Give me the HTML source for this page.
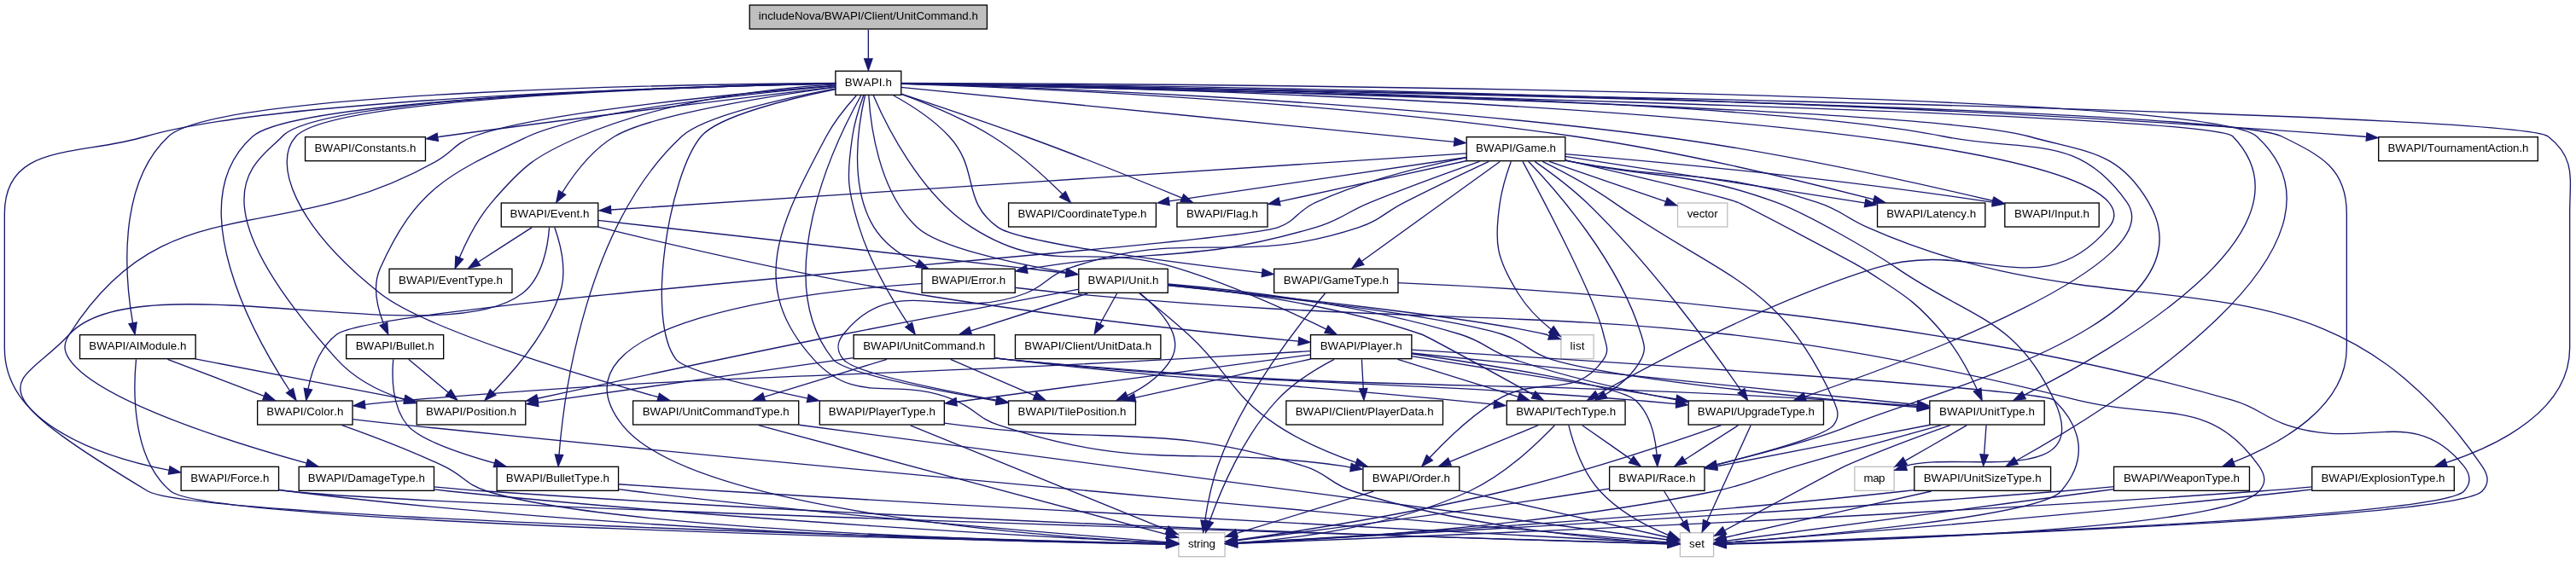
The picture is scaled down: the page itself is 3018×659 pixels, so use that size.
<!DOCTYPE html>
<html><head><meta charset="utf-8"><title>includeNova/BWAPI/Client/UnitCommand.h</title>
<style>
html,body{margin:0;padding:0;background:#fff}
svg{display:block;will-change:transform}
text{font-family:"Liberation Sans",sans-serif;font-size:13.3333px;font-kerning:none;fill:#000}
.e path{fill:none;stroke:#191970;stroke-width:1}
.e polygon{fill:#191970;stroke:#191970;stroke-width:1}
.n rect{stroke-width:1.3333}
</style></head><body>
<svg width="3018" height="659" viewBox="0 0 3018 659">
<rect x="0" y="0" width="3018" height="659" fill="#fff"/>
<g class="n">
<rect x="878.23" y="6.00" width="278.20" height="28.00" fill="#bfbfbf" stroke="#000"/><text x="888.83" y="23.30" textLength="257" lengthAdjust="spacing">includeNova/BWAPI/Client/UnitCommand.h</text>
<rect x="978.88" y="83.33" width="76.90" height="28.00" fill="#fff" stroke="#000"/><text x="989.83" y="100.63" textLength="55" lengthAdjust="spacing">BWAPI.h</text>
<rect x="93.53" y="392.67" width="135.60" height="28.00" fill="#fff" stroke="#000"/><text x="104.33" y="409.97" textLength="114" lengthAdjust="spacing">BWAPI/AIModule.h</text>
<rect x="488.20" y="470.00" width="127.60" height="28.00" fill="#fff" stroke="#000"/><text x="499.00" y="487.30" textLength="106" lengthAdjust="spacing">BWAPI/Position.h</text>
<rect x="301.63" y="470.00" width="111.40" height="28.00" fill="#fff" stroke="#000"/><text x="312.33" y="487.30" textLength="90" lengthAdjust="spacing">BWAPI/Color.h</text>
<rect x="405.67" y="392.67" width="114.00" height="28.00" fill="#fff" stroke="#000"/><text x="416.67" y="409.97" textLength="92" lengthAdjust="spacing">BWAPI/Bullet.h</text>
<rect x="582.13" y="547.33" width="142.40" height="28.00" fill="#fff" stroke="#000"/><text x="592.83" y="564.63" textLength="121" lengthAdjust="spacing">BWAPI/BulletType.h</text>
<rect x="357.55" y="160.67" width="140.90" height="28.00" fill="#fff" stroke="#000"/><text x="368.50" y="177.97" textLength="119" lengthAdjust="spacing">BWAPI/Constants.h</text>
<rect x="1181.60" y="238.00" width="172.80" height="28.00" fill="#fff" stroke="#000"/><text x="1192.50" y="255.30" textLength="151" lengthAdjust="spacing">BWAPI/CoordinateType.h</text>
<rect x="350.18" y="547.33" width="158.30" height="28.00" fill="#fff" stroke="#000"/><text x="360.83" y="564.63" textLength="137" lengthAdjust="spacing">BWAPI/DamageType.h</text>
<rect x="1080.07" y="315.33" width="109.20" height="28.00" fill="#fff" stroke="#000"/><text x="1091.17" y="332.63" textLength="87" lengthAdjust="spacing">BWAPI/Error.h</text>
<rect x="587.25" y="238.00" width="113.50" height="28.00" fill="#fff" stroke="#000"/><text x="597.50" y="255.30" textLength="93" lengthAdjust="spacing">BWAPI/Event.h</text>
<rect x="456.05" y="315.33" width="143.90" height="28.00" fill="#fff" stroke="#000"/><text x="467.00" y="332.63" textLength="122" lengthAdjust="spacing">BWAPI/EventType.h</text>
<rect x="1535.47" y="392.67" width="118.40" height="28.00" fill="#fff" stroke="#000"/><text x="1546.67" y="409.97" textLength="96" lengthAdjust="spacing">BWAPI/Player.h</text>
<rect x="1181.55" y="470.00" width="148.90" height="28.00" fill="#fff" stroke="#000"/><text x="1192.50" y="487.30" textLength="127" lengthAdjust="spacing">BWAPI/TilePosition.h</text>
<rect x="1885.63" y="547.33" width="111.40" height="28.00" fill="#fff" stroke="#000"/><text x="1896.33" y="564.63" textLength="90" lengthAdjust="spacing">BWAPI/Race.h</text>
<rect x="1765.27" y="470.00" width="138.80" height="28.00" fill="#fff" stroke="#000"/><text x="1776.17" y="487.30" textLength="117" lengthAdjust="spacing">BWAPI/TechType.h</text>
<rect x="1596.88" y="547.33" width="112.90" height="28.00" fill="#fff" stroke="#000"/><text x="1607.83" y="564.63" textLength="91" lengthAdjust="spacing">BWAPI/Order.h</text>
<rect x="1978.18" y="470.00" width="158.30" height="28.00" fill="#fff" stroke="#000"/><text x="1988.83" y="487.30" textLength="137" lengthAdjust="spacing">BWAPI/UpgradeType.h</text>
<rect x="960.33" y="470.00" width="146.00" height="28.00" fill="#fff" stroke="#000"/><text x="970.83" y="487.30" textLength="125" lengthAdjust="spacing">BWAPI/PlayerType.h</text>
<rect x="2260.80" y="470.00" width="134.40" height="28.00" fill="#fff" stroke="#000"/><text x="2272.00" y="487.30" textLength="112" lengthAdjust="spacing">BWAPI/UnitType.h</text>
<rect x="2242.77" y="547.33" width="159.80" height="28.00" fill="#fff" stroke="#000"/><text x="2253.67" y="564.63" textLength="138" lengthAdjust="spacing">BWAPI/UnitSizeType.h</text>
<rect x="1263.75" y="315.33" width="104.50" height="28.00" fill="#fff" stroke="#000"/><text x="1274.50" y="332.63" textLength="83" lengthAdjust="spacing">BWAPI/Unit.h</text>
<rect x="1000.12" y="392.67" width="165.10" height="28.00" fill="#fff" stroke="#000"/><text x="1011.17" y="409.97" textLength="143" lengthAdjust="spacing">BWAPI/UnitCommand.h</text>
<rect x="741.62" y="470.00" width="194.10" height="28.00" fill="#fff" stroke="#000"/><text x="752.67" y="487.30" textLength="172" lengthAdjust="spacing">BWAPI/UnitCommandType.h</text>
<rect x="2708.70" y="547.33" width="166.60" height="28.00" fill="#fff" stroke="#000"/><text x="2719.50" y="564.63" textLength="145" lengthAdjust="spacing">BWAPI/ExplosionType.h</text>
<rect x="1378.95" y="238.00" width="106.10" height="28.00" fill="#fff" stroke="#000"/><text x="1390.00" y="255.30" textLength="84" lengthAdjust="spacing">BWAPI/Flag.h</text>
<rect x="212.13" y="547.33" width="114.40" height="28.00" fill="#fff" stroke="#000"/><text x="223.33" y="564.63" textLength="92" lengthAdjust="spacing">BWAPI/Force.h</text>
<rect x="1718.20" y="160.67" width="115.60" height="28.00" fill="#fff" stroke="#000"/><text x="1729.00" y="177.97" textLength="94" lengthAdjust="spacing">BWAPI/Game.h</text>
<rect x="1492.68" y="315.33" width="145.30" height="28.00" fill="#fff" stroke="#000"/><text x="1503.83" y="332.63" textLength="123" lengthAdjust="spacing">BWAPI/GameType.h</text>
<rect x="2199.52" y="238.00" width="126.30" height="28.00" fill="#fff" stroke="#000"/><text x="2210.17" y="255.30" textLength="105" lengthAdjust="spacing">BWAPI/Latency.h</text>
<rect x="2348.80" y="238.00" width="110.40" height="28.00" fill="#fff" stroke="#000"/><text x="2360.00" y="255.30" textLength="88" lengthAdjust="spacing">BWAPI/Input.h</text>
<rect x="2786.70" y="160.67" width="186.60" height="28.00" fill="#fff" stroke="#000"/><text x="2797.50" y="177.97" textLength="165" lengthAdjust="spacing">BWAPI/TournamentAction.h</text>
<rect x="2476.55" y="547.33" width="158.90" height="28.00" fill="#fff" stroke="#000"/><text x="2488.00" y="564.63" textLength="136" lengthAdjust="spacing">BWAPI/WeaponType.h</text>
<rect x="1380.90" y="624.67" width="54.20" height="28.00" fill="#fff" stroke="#bfbfbf"/><text x="1392.00" y="641.97" textLength="32" lengthAdjust="spacing">string</text>
<rect x="1968.40" y="624.67" width="39.20" height="28.00" fill="#fff" stroke="#bfbfbf"/><text x="1979.00" y="641.97" textLength="18" lengthAdjust="spacing">set</text>
<rect x="1506.87" y="470.00" width="183.60" height="28.00" fill="#fff" stroke="#000"/><text x="1517.67" y="487.30" textLength="162" lengthAdjust="spacing">BWAPI/Client/PlayerData.h</text>
<rect x="2172.85" y="547.33" width="46.30" height="28.00" fill="#fff" stroke="#bfbfbf"/><text x="2183.50" y="564.63" textLength="25" lengthAdjust="spacing">map</text>
<rect x="1828.90" y="392.67" width="38.20" height="28.00" fill="#fff" stroke="#bfbfbf"/><text x="1839.50" y="409.97" textLength="17" lengthAdjust="spacing">list</text>
<rect x="1189.47" y="392.67" width="170.40" height="28.00" fill="#fff" stroke="#000"/><text x="1200.17" y="409.97" textLength="149" lengthAdjust="spacing">BWAPI/Client/UnitData.h</text>
<rect x="1965.52" y="238.00" width="58.30" height="28.00" fill="#fff" stroke="#bfbfbf"/><text x="1976.67" y="255.30" textLength="36" lengthAdjust="spacing">vector</text>
</g>
<g class="e" transform="scale(1.333333) translate(4,490)">
<path d="M759,-463.99C759,-456.91 759,-447.17 759,-438.48"/><polygon points="762.50,-438.30 759,-428.30 755.50,-438.30 762.50,-438.30"/>
<path d="M730.50,-416.87C615.19,-416.06 187.34,-410.36 144,-370C98.34,-327.47 106.02,-244.54 112.68,-205.83"/><polygon points="109.24,-205.19 114.52,-196 116.12,-206.47 109.24,-205.19"/>
<path d="M730.50,-416.59C627.24,-414.80 277.03,-406.11 244,-370C223.76,-347.87 159.22,-321.14 292,-174C307.87,-156.41 330.19,-145.31 351.91,-138.35"/><polygon points="350.92,-134.99 361.50,-135.50 352.91,-141.70 350.92,-134.99"/>
<path d="M730.50,-416.48C624.42,-414.28 256.58,-404.23 218,-370C152.72,-312.08 220.11,-192.94 250.64,-146.31"/><polygon points="247.73,-144.37 256.20,-138 253.55,-148.26 247.73,-144.37"/>
<path d="M730.50,-414.57C665.43,-408.71 507.85,-392.56 460,-370C389.96,-336.98 361.65,-324.67 330,-254C323.04,-238.45 327.54,-219.34 333.07,-205.17"/><polygon points="329.86,-203.77 337.06,-196 336.28,-206.57 329.86,-203.77"/>
<path d="M730.50,-412.03C689,-404.28 614.71,-388.28 595,-370C511.03,-292.11 491.62,-144.55 487.24,-89.97"/><polygon points="483.75,-90.22 486.53,-80 490.73,-89.73 483.75,-90.22"/>
<path d="M730.50,-413.63C667.80,-406.18 513.19,-387.56 384,-370C382.54,-369.80 382.07,-369.60 380.58,-369.39"/><polygon points="381.04,-365.92 370.65,-367.99 380.06,-372.85 381.04,-365.92"/>
<path d="M787.50,-407.36C810.18,-399.07 842.28,-385.95 868,-370C891.30,-355.55 914.52,-334.23 929.69,-319.12"/><polygon points="927.20,-316.67 936.71,-312 932.19,-321.58 927.20,-316.67"/>
<path d="M730.50,-414.79C658.42,-408.94 470.43,-391.98 412,-370C395.50,-363.79 394.34,-356.67 379,-348C241.23,-270.12 141.72,-329.67 57,-196C51.77,-187.74 51.51,-182.09 57,-174C81.24,-138.25 196.58,-101.78 265.56,-82.65"/><polygon points="264.64,-79.27 275.21,-80 266.49,-86.02 264.64,-79.27"/>
<path d="M756.09,-406C750.59,-382.63 741.11,-327.14 764,-290C772.78,-275.76 787.56,-265.43 802.24,-258.16"/><polygon points="800.79,-254.97 811.34,-254 803.70,-261.34 800.79,-254.97"/>
<path d="M730.50,-413.34C678.06,-406.22 568.65,-389.50 536,-370C516.02,-358.07 499.89,-336.45 489.96,-320.58"/><polygon points="486.96,-322.38 484.83,-312 492.96,-318.79 486.96,-322.38"/>
<path d="M730.50,-415.85C682.35,-413.02 582.65,-403.28 506,-370C466.37,-352.79 456.13,-344.79 428,-312C415.53,-297.46 405.83,-277.87 399.66,-263.28"/><polygon points="396.41,-264.58 395.92,-254 402.90,-261.97 396.41,-264.58"/>
<path d="M763.45,-406C774.20,-380.93 804.13,-319.46 850,-290C919.02,-245.68 952.59,-278.08 1031,-254C1077.91,-239.59 1129.64,-215.94 1161.48,-200.42"/><polygon points="1159.94,-197.28 1170.45,-196 1163.03,-203.56 1159.94,-197.28"/>
<path d="M752.58,-406C731.74,-368.70 670.56,-245.39 728,-174C737.21,-162.55 813.48,-147.41 871.64,-137.45"/><polygon points="871.06,-134 881.50,-135.78 872.23,-140.90 871.06,-134"/>
<path d="M787.50,-416.46C942.57,-413.41 1681.34,-397.54 1779,-370C1830.31,-355.53 1856.91,-357.92 1884,-312C1947.52,-204.34 1676.65,-140.76 1622,-116C1600.86,-106.42 1546.14,-91.71 1504.21,-81.30"/><polygon points="1503.37,-84.69 1494.50,-78.90 1505.05,-77.90 1503.37,-84.69"/>
<path d="M787.50,-416.58C952.36,-413.87 1778.95,-396.13 1849,-312C1855.26,-304.49 1855.29,-297.49 1849,-290C1789.20,-218.85 1731.68,-281.83 1643,-254C1549.81,-224.76 1447.37,-169.99 1399.50,-142.95"/><polygon points="1397.77,-145.99 1390.81,-138 1401.23,-139.90 1397.77,-145.99"/>
<path d="M748.47,-406C740.29,-396.95 729.16,-383.46 722,-370C681,-292.98 652.31,-238.56 711,-174C749.60,-131.54 782.10,-160.25 835,-138C853.34,-130.29 855.08,-122.18 874,-116C1002.90,-73.86 1042.77,-99.34 1177,-80C1179.21,-79.68 1180.47,-79.34 1182.75,-79"/><polygon points="1183.49,-82.42 1192.82,-77.41 1182.40,-75.51 1183.49,-82.42"/>
<path d="M787.50,-416.71C925.16,-415.15 1522.06,-406.36 1704,-370C1778.58,-355.10 1821.27,-374.23 1865,-312C1902.72,-258.32 1678.78,-174.43 1581.97,-141.22"/><polygon points="1580.84,-144.54 1572.50,-138 1583.10,-137.91 1580.84,-144.54"/>
<path d="M730.50,-411.64C692.24,-403.83 627.28,-388.27 612,-370C583.88,-336.38 563.09,-208.60 590,-174C597.43,-164.44 656.72,-150.05 705.71,-139.71"/><polygon points="705,-136.29 715.50,-137.67 706.43,-143.14 705,-136.29"/>
<path d="M787.50,-416.42C967.25,-412.73 1937.03,-391.80 1958,-370C2038.06,-286.81 1852.32,-181.44 1774.40,-142.43"/><polygon points="1772.84,-145.57 1765.43,-138 1775.95,-139.29 1772.84,-145.57"/>
<path d="M787.50,-416.94C966.88,-416.42 1933.73,-411.69 1979,-370C2082.85,-274.38 1852.05,-132.03 1767.48,-84.84"/><polygon points="1765.79,-87.90 1758.73,-80 1769.18,-81.77 1765.79,-87.90"/>
<path d="M759.36,-406C760.78,-381.39 767.77,-321.60 802,-290C821.13,-272.34 886.35,-258.36 933.14,-250.38"/><polygon points="932.56,-246.93 943,-248.74 933.71,-253.83 932.56,-246.93"/>
<path d="M754.75,-406C751.36,-396.60 746.88,-382.64 745,-370C739.75,-334.73 740.39,-324.04 751,-290C760.97,-258.02 781.05,-224.60 794.51,-204.28"/><polygon points="791.62,-202.32 800.12,-196 797.41,-206.24 791.62,-202.32"/>
<path d="M730.50,-416.52C628.81,-414.52 288.15,-405.23 256,-370C235.46,-347.49 253.48,-292.74 330,-232C368.66,-201.31 500.87,-161.34 574.48,-140.69"/><polygon points="573.54,-137.31 584.12,-138 575.42,-144.06 573.54,-137.31"/>
<path d="M787.50,-416.56C990.12,-413.35 2205.41,-393.19 2235,-370C2259.70,-350.64 2254,-333.38 2254,-302C2254,-302 2254,-302 2254,-184C2254,-129.66 2192.90,-98.82 2145.29,-83.02"/><polygon points="2144.23,-86.36 2135.76,-80 2146.35,-79.69 2144.23,-86.36"/>
<path d="M787.50,-407.66C815.48,-398.40 859.33,-383.67 897,-370C945.13,-352.53 999.89,-330.28 1034.67,-315.84"/><polygon points="1033.33,-312.61 1043.91,-312 1036.02,-319.07 1033.33,-312.61"/>
<path d="M730.50,-416.49C622.70,-414.31 240.16,-404.28 124,-370C63.72,-352.21 0,-364.85 0,-302C0,-302 0,-302 0,-184C0,-116.54 86.01,-87.98 144.67,-76.40"/><polygon points="144.03,-72.96 154.50,-74.56 145.31,-79.84 144.03,-72.96"/>
<path d="M787.61,-413.18C877.73,-404.31 1155.78,-376.85 1273.62,-365.25"/><polygon points="1274.23,-368.71 1283.83,-364.25 1273.54,-361.74 1274.23,-368.71"/>
<path d="M781.20,-406C796.33,-397.68 816.07,-385.12 830,-370C857.35,-340.32 840.04,-313.31 873,-290C891.71,-276.76 1023.51,-259.57 1105.07,-250.08"/><polygon points="1104.66,-246.60 1115,-248.93 1105.47,-253.55 1104.66,-246.60"/>
<path d="M787.50,-416.23C875.88,-413.54 1153.01,-402.89 1380,-370C1473.65,-356.43 1581,-330.44 1642.52,-314.52"/><polygon points="1641.64,-311.13 1652.20,-312 1643.40,-317.91 1641.64,-311.13"/>
<path d="M787.50,-416.35C882.47,-413.91 1196.73,-403.66 1454,-370C1559.55,-356.18 1680.31,-329.19 1747.27,-313.37"/><polygon points="1746.46,-309.97 1757,-311.06 1748.08,-316.78 1746.46,-309.97"/>
<path d="M787.50,-416.84C927.67,-415.90 1557.89,-409.54 2072,-370C2073.32,-369.90 2073.65,-369.79 2074.98,-369.68"/><polygon points="2075.73,-373.13 2085.37,-368.74 2075.10,-366.16 2075.73,-373.13"/>
<path d="M787.50,-416.57C967.84,-413.80 1944.70,-397.54 2001,-370C2036.42,-352.67 2058,-341.44 2058,-302C2058,-302 2058,-302 2058,-184C2058,-132.43 2001,-100.32 1958.48,-83.54"/><polygon points="1957.24,-86.81 1949.13,-80 1959.72,-80.27 1957.24,-86.81"/>
<path d="M115.62,-174C113.16,-148.88 111.15,-87.21 146,-58C180.31,-29.23 867.88,-14.48 1021,-11.55"/><polygon points="1020.94,-8.05 1031,-11.36 1021.07,-15.05 1020.94,-8.05"/>
<path d="M167.70,-174.31C219.10,-164.49 297.50,-149.31 351.28,-139.03"/><polygon points="352.18,-142.42 361.34,-137.11 350.86,-135.55 352.18,-142.42"/>
<path d="M143.28,-173.99C166.86,-165.01 201.68,-151.74 227.88,-141.76"/><polygon points="229.35,-144.94 237.45,-138.11 226.86,-138.40 229.35,-144.94"/>
<path d="M296.44,-116C321.35,-107.20 356.37,-94.04 386,-80C403.63,-71.64 405.35,-63.75 424,-58C537.85,-22.92 911.93,-13.50 1021,-11.48"/><polygon points="1020.94,-7.98 1031,-11.30 1021.06,-14.98 1020.94,-7.98"/>
<path d="M305.66,-121.22C320.86,-119.51 338.20,-117.62 354,-116C798.51,-70.52 1340.92,-23.45 1461.54,-13.09"/><polygon points="1461.24,-9.61 1471.50,-12.24 1461.84,-16.58 1461.24,-9.61"/>
<path d="M354.98,-173.99C364.67,-165.89 378.53,-154.30 389.92,-144.79"/><polygon points="392.24,-147.40 397.67,-138.30 387.75,-142.03 392.24,-147.40"/>
<path d="M341.55,-174C340.23,-159.09 340.22,-132.43 354,-116C364.34,-103.66 399.31,-91.51 430.66,-82.66"/><polygon points="429.73,-79.28 440.30,-80 431.58,-86.03 429.73,-79.28"/>
<path d="M539.36,-59.76C543.97,-59.13 548.56,-58.54 553,-58C730.47,-36.60 943.40,-19.28 1021.03,-13.27"/><polygon points="1020.76,-9.78 1031,-12.51 1021.30,-16.76 1020.76,-9.78"/>
<path d="M539.06,-64.21C567,-62.26 601.85,-59.90 633,-58C961.30,-37.99 1359.76,-17.42 1461.51,-12.24"/><polygon points="1461.34,-8.75 1471.50,-11.73 1461.69,-15.74 1461.34,-8.75"/>
<path d="M377.32,-59.54C381.95,-58.98 386.55,-58.46 391,-58C633.94,-32.93 927.50,-17.12 1021.01,-12.45"/><polygon points="1020.84,-8.96 1031,-11.96 1021.19,-15.95 1020.84,-8.96"/>
<path d="M377.11,-61.89C392.37,-60.46 408.79,-59.05 424,-58C838.90,-29.47 1345.29,-14.77 1461.50,-11.64"/><polygon points="1461.41,-8.14 1471.50,-11.37 1461.60,-15.14 1461.41,-8.14"/>
<path d="M806.50,-240.78C708.16,-233.90 470.06,-207.56 543,-116C603.51,-40.05 921.11,-17.59 1021.01,-12.36"/><polygon points="1020.84,-8.87 1031,-11.86 1021.19,-15.86 1020.84,-8.87"/>
<path d="M887.71,-237.06C902.58,-235.34 919.54,-233.47 935,-232C1329.65,-194.48 1437.31,-233.77 1822,-138C1894.99,-119.83 1937.88,-141.63 1981,-80C1986.61,-71.99 1987.59,-65.23 1981,-58C1949.06,-22.96 1607.79,-13.43 1512.50,-11.45"/><polygon points="1512.43,-14.94 1502.50,-11.25 1512.57,-7.95 1512.43,-14.94"/>
<path d="M478.67,-290C477.55,-274.34 473,-245.99 455,-232C384.89,-177.49 116.90,-261.56 57,-196C14.41,-149.38 -38.30,-156.91 126,-58C165.25,-34.36 866.30,-15.59 1021,-11.73"/><polygon points="1020.92,-8.23 1031,-11.48 1021.09,-15.23 1020.92,-8.23"/>
<path d="M483.38,-290C488.24,-276.14 494.58,-251.74 488,-232C476.38,-197.14 448.29,-164.40 429.19,-145.03"/><polygon points="426.73,-147.52 422.07,-138 431.65,-142.54 426.73,-147.52"/>
<path d="M463.45,-289.99C450.41,-281.60 431.58,-269.47 416.52,-259.78"/><polygon points="418.02,-256.58 407.71,-254.11 414.23,-262.47 418.02,-256.58"/>
<path d="M521.50,-290.39C582.40,-275.51 698.15,-248.43 798,-232C918.88,-212.11 1060.95,-197.17 1137.04,-189.91"/><polygon points="1136.71,-186.42 1147,-188.96 1137.37,-193.39 1136.71,-186.42"/>
<path d="M521.50,-296.24C597.06,-287.78 759.75,-269.54 897,-254C908.78,-252.67 920.47,-251.21 932.39,-249.82"/><polygon points="933.09,-253.26 942.62,-248.63 932.28,-246.31 933.09,-253.26"/>
<path d="M1168.33,-174C1152.59,-165.79 1132.26,-153.35 1118,-138C1088.37,-106.11 1068.39,-58.40 1058.72,-31.45"/><polygon points="1055.42,-32.59 1055.45,-22 1062.03,-30.31 1055.42,-32.59"/>
<path d="M1147.70,-181.27C1114.05,-179.22 1066.61,-176.36 1025,-174C726.83,-157.07 651.64,-162.50 354,-138C341.64,-136.98 329.34,-135.64 316.87,-134.27"/><polygon points="316.95,-130.76 306.62,-133.13 316.17,-137.72 316.95,-130.76"/>
<path d="M1236,-182.36C1374.17,-173.96 1790.86,-147.86 1801,-138C1826.56,-113.14 1830.35,-84.95 1807,-58C1787.61,-35.62 1583.95,-18.21 1512.47,-12.78"/><polygon points="1512.21,-16.27 1502.50,-12.03 1512.73,-9.29 1512.21,-16.27"/>
<path d="M1147.76,-174.25C1104.85,-164.79 1039.63,-150.41 993.32,-140.20"/><polygon points="993.97,-136.75 983.45,-138.02 992.46,-143.59 993.97,-136.75"/>
<path d="M1236,-178.95C1301.53,-169.56 1418.63,-151.20 1433,-138C1446.20,-125.86 1450.56,-105.46 1451.84,-89.99"/><polygon points="1448.35,-89.82 1452.32,-80 1455.34,-90.16 1448.35,-89.82"/>
<path d="M1224.18,-173.99C1253.78,-164.78 1297.85,-151.07 1330.17,-141.01"/><polygon points="1331.29,-144.33 1339.80,-138.02 1329.21,-137.65 1331.29,-144.33"/>
<path d="M1236.30,-176.85C1295.34,-167.32 1399.41,-150.37 1468.91,-139.15"/><polygon points="1469.58,-142.59 1478.89,-137.54 1468.46,-135.68 1469.58,-142.59"/>
<path d="M1147.74,-178.11C1073.11,-168.19 922.94,-148.08 836.50,-136.58"/><polygon points="836.92,-133.10 826.55,-135.26 836,-140.04 836.92,-133.10"/>
<path d="M1236.08,-179.51C1334.09,-169.53 1569.21,-145.49 1680.74,-134.14"/><polygon points="1681.21,-137.61 1690.81,-133.11 1680.51,-130.64 1681.21,-137.61"/>
<path d="M1192.54,-173.99C1192.92,-166.91 1193.44,-157.17 1193.90,-148.48"/><polygon points="1197.41,-148.48 1194.45,-138.30 1190.42,-148.10 1197.41,-148.48"/>
<path d="M1410.44,-60.37C1405.58,-59.54 1400.68,-58.73 1396,-58C1280.13,-39.91 1142.71,-22.17 1082.92,-14.70"/><polygon points="1082.49,-18.17 1073,-13.46 1083.36,-11.23 1082.49,-18.17"/>
<path d="M1458.26,-57.99C1462.93,-50.52 1469.45,-40.08 1475.10,-31.04"/><polygon points="1478.23,-32.64 1480.56,-22.30 1472.29,-28.93 1478.23,-32.64"/>
<path d="M1362.02,-116C1347.24,-100.45 1317.93,-72.33 1287,-58C1218.11,-26.07 1129.04,-15.78 1082.98,-12.50"/><polygon points="1082.75,-16 1073,-11.86 1083.21,-9.01 1082.75,-16"/>
<path d="M1374.38,-116C1378.06,-101.24 1386.40,-74.91 1402,-58C1418.85,-39.74 1443.46,-26.93 1462.17,-19.34"/><polygon points="1460.91,-16.08 1471.50,-15.76 1463.42,-22.61 1460.91,-16.08"/>
<path d="M1386.30,-115.99C1398.17,-107.68 1415.28,-95.70 1429.06,-86.06"/><polygon points="1431.37,-88.72 1437.55,-80.11 1427.35,-82.98 1431.37,-88.72"/>
<path d="M1347.69,-115.99C1326.06,-107.08 1294.22,-93.97 1270.06,-84.03"/><polygon points="1271.14,-80.68 1260.56,-80.11 1268.48,-87.16 1271.14,-80.68"/>
<path d="M1203.10,-57.99C1168.63,-47.50 1115.96,-31.16 1082.72,-21.05"/><polygon points="1083.69,-17.68 1073.11,-18.12 1081.66,-24.38 1083.69,-17.68"/>
<path d="M1278.01,-58.63C1330.76,-46.86 1418.52,-27.06 1461.38,-17.49"/><polygon points="1462.24,-20.89 1471.23,-15.29 1460.71,-14.06 1462.24,-20.89"/>
<path d="M1508.41,-116C1466.10,-101.12 1387.09,-74.53 1318,-58C1233.23,-37.72 1132.38,-22.12 1082.90,-15.09"/><polygon points="1082.42,-18.55 1073,-13.70 1083.39,-11.62 1082.42,-18.55"/>
<path d="M1534.39,-115.88C1525.77,-97 1507.11,-56.10 1495.95,-31.63"/><polygon points="1499.01,-29.90 1491.68,-22.26 1492.64,-32.81 1499.01,-29.90"/>
<path d="M1523.45,-115.99C1510.41,-107.60 1491.58,-95.47 1476.52,-85.78"/><polygon points="1478.02,-82.58 1467.71,-80.11 1474.23,-88.47 1478.02,-82.58"/>
<path d="M795.94,-115.88C847.76,-94.86 965.89,-46.53 1021.46,-23.99"/><polygon points="1022.80,-27.22 1030.75,-20.22 1020.17,-20.73 1022.80,-27.22"/>
<path d="M825.60,-117.96C830.46,-117.28 835.32,-116.62 840,-116C974.01,-98.30 1012.70,-119.40 1142,-80C1162.53,-73.74 1164.57,-64.59 1185,-58C1284.71,-25.83 1409.31,-15.33 1461.52,-12.20"/><polygon points="1461.32,-8.71 1471.50,-11.64 1461.71,-15.70 1461.32,-8.71"/>
<path d="M1701.72,-116C1667.64,-106.63 1617.56,-92.71 1574,-80C1542.29,-70.75 1535.37,-64.60 1503,-58C1346.50,-26.10 1155.82,-15.24 1082.99,-12.11"/><polygon points="1082.85,-15.61 1073,-11.70 1083.14,-8.61 1082.85,-15.61"/>
<path d="M1709.68,-116C1684.20,-107.05 1647.92,-93.70 1617,-80C1611.60,-77.61 1547.25,-42.71 1511.32,-23.49"/><polygon points="1509.67,-26.57 1502.50,-18.77 1512.97,-20.40 1509.67,-26.57"/>
<path d="M1691.82,-116.31C1639.12,-106.13 1557.68,-90.21 1504.49,-79.94"/><polygon points="1505.07,-76.49 1494.59,-78.03 1503.75,-83.36 1505.07,-76.49"/>
<path d="M1724.30,-115.99C1709,-107.33 1687.68,-94.71 1670.29,-84.87"/><polygon points="1671.64,-81.61 1661.21,-79.74 1668.20,-87.71 1671.64,-81.61"/>
<path d="M1741.28,-115.99C1740.78,-108.91 1740.08,-99.17 1739.46,-90.48"/><polygon points="1742.94,-90.03 1738.74,-80.30 1735.96,-90.53 1742.94,-90.03"/>
<path d="M1678.19,-59.07C1675.09,-58.69 1672.01,-58.33 1669,-58C1443.96,-33.34 1172.40,-17.43 1082.99,-12.58"/><polygon points="1082.80,-16.07 1073,-12.04 1083.17,-9.08 1082.80,-16.07"/>
<path d="M1693.13,-57.99C1640.07,-46.15 1554.68,-26.88 1512.60,-17.49"/><polygon points="1513.19,-14.03 1502.67,-15.27 1511.67,-20.87 1513.19,-14.03"/>
<path d="M944,-235.70C895.46,-226.58 810.05,-210.42 737,-196C642.24,-177.29 533.47,-153.74 468.27,-139.56"/><polygon points="467.53,-142.98 458.50,-137.43 469.02,-136.14 467.53,-142.98"/>
<path d="M997.94,-232C1014.51,-218.40 1037.37,-194.53 1025,-174C1016.27,-159.51 1001.36,-149.20 986.32,-142.02"/><polygon points="984.91,-145.22 977.16,-138 987.72,-138.81 984.91,-145.22"/>
<path d="M1022,-239.81C1074.03,-234.70 1168.49,-222.43 1245,-196C1250.18,-194.21 1307.58,-162.65 1343.41,-142.84"/><polygon points="1341.72,-139.78 1352.16,-138 1345.11,-145.90 1341.72,-139.78"/>
<path d="M997.11,-232C1008.85,-222.70 1025.86,-208.87 1040,-196C1076.72,-162.57 1076.60,-143.42 1118,-116C1139.26,-101.92 1165.38,-90.98 1187.64,-83.20"/><polygon points="1186.52,-79.89 1197.11,-80 1188.76,-86.52 1186.52,-79.89"/>
<path d="M1022,-240.26C1079.35,-235.47 1189.35,-223.33 1279,-196C1301.06,-189.27 1304.15,-181.37 1326,-174C1373.13,-158.10 1426.95,-146.15 1469.16,-138.28"/><polygon points="1468.53,-134.83 1479,-136.47 1469.80,-141.72 1468.53,-134.83"/>
<path d="M1022,-239.12C1097.70,-231.33 1261.84,-213.06 1316,-196C1336.48,-189.55 1338.47,-180.27 1359,-174C1417.94,-156.01 1588.89,-139.61 1681.04,-131.80"/><polygon points="1680.74,-128.31 1691,-130.96 1681.33,-135.29 1680.74,-128.31"/>
<path d="M1022,-239.13C1103.92,-230.83 1291.50,-210.85 1354,-196C1355.44,-195.66 1355.92,-195.27 1357.39,-194.84"/><polygon points="1358.53,-198.15 1366.94,-191.70 1356.35,-191.50 1358.53,-198.15"/>
<path d="M951.71,-231.99C923.06,-222.82 880.46,-209.19 849.07,-199.14"/><polygon points="849.90,-195.73 839.31,-196.02 847.77,-202.40 849.90,-195.73"/>
<path d="M977.46,-231.99C973.37,-224.60 967.67,-214.30 962.70,-205.33"/><polygon points="965.61,-203.36 957.70,-196.30 959.49,-206.75 965.61,-203.36"/>
<path d="M745.81,-175.25C669.70,-164.54 542.84,-146.55 468.79,-136.13"/><polygon points="469.10,-132.64 458.71,-134.71 468.13,-139.57 469.10,-132.64"/>
<path d="M831.24,-173.99C851.82,-165.12 882.08,-152.09 905.13,-142.16"/><polygon points="906.72,-145.28 914.52,-138.11 903.95,-138.86 906.72,-145.28"/>
<path d="M870.03,-175.20C873.40,-174.78 876.74,-174.38 880,-174C1054.25,-153.93 1098.41,-154.81 1273,-138C1284.89,-136.86 1296.58,-135.60 1308.77,-134.38"/><polygon points="1309.26,-137.84 1318.86,-133.36 1308.56,-130.88 1309.26,-137.84"/>
<path d="M870.02,-175.09C873.39,-174.70 876.74,-174.33 880,-174C1125.03,-149.04 1187.48,-157.57 1433,-138C1444.88,-137.05 1456.49,-135.95 1468.72,-134.83"/><polygon points="1469.24,-138.29 1478.88,-133.88 1468.60,-131.32 1469.24,-138.29"/>
<path d="M870.01,-175.03C873.39,-174.66 876.73,-174.31 880,-174C1202.09,-143.72 1284.11,-157.95 1607,-138C1631.42,-136.49 1657.30,-134.56 1680.60,-132.79"/><polygon points="1680.99,-136.27 1690.69,-132.02 1680.46,-129.29 1680.99,-136.27"/>
<path d="M775.28,-173.99C745.19,-164.78 700.38,-151.07 667.53,-141.01"/><polygon points="668.33,-137.60 657.74,-138.02 666.28,-144.29 668.33,-137.60"/>
<path d="M662.52,-115.98C746.10,-93.67 945.18,-40.25 1021.10,-19.98"/><polygon points="1022.20,-23.31 1030.96,-17.35 1020.40,-16.55 1022.20,-23.31"/>
<path d="M698.12,-116.33C880.67,-92.19 1348.82,-30.14 1461.43,-15.25"/><polygon points="1462.02,-18.70 1471.47,-13.92 1461.10,-11.76 1462.02,-18.70"/>
<path d="M2027.78,-61.84C2012.50,-60.45 1996.16,-59.07 1981,-58C1627.61,-33.05 1198.89,-16.35 1082.99,-12.08"/><polygon points="1082.87,-15.58 1073,-11.72 1083.12,-8.58 1082.87,-15.58"/>
<path d="M2027.81,-59.59C2023.14,-59.03 2018.50,-58.49 2014,-58C1820.69,-36.85 1587.62,-18.53 1512.47,-12.83"/><polygon points="1512.21,-16.32 1502.50,-12.08 1512.74,-9.34 1512.21,-16.32"/>
<path d="M240.78,-59.31C243.89,-58.82 246.99,-58.37 250,-58C549.65,-20.76 915.05,-12.89 1021,-11.35"/><polygon points="1020.95,-7.85 1031,-11.21 1021.05,-14.85 1020.95,-7.85"/>
<path d="M240.77,-59.24C243.88,-58.77 246.99,-58.34 250,-58C374.57,-43.79 1298.52,-16.44 1461.50,-11.71"/><polygon points="1461.40,-8.21 1471.50,-11.42 1461.61,-15.21 1461.40,-8.21"/>
<path d="M1285,-351.55C1248.53,-344.29 1195.39,-331.47 1152,-312C1135.92,-304.78 1135.56,-296.04 1119,-290C1075.56,-274.15 328.89,-223.88 292,-196C276.90,-184.60 269.92,-163.68 266.70,-147.86"/><polygon points="263.25,-148.44 265.04,-138 270.15,-147.28 263.25,-148.44"/>
<path d="M1371.16,-348.92C1372.79,-348.61 1374.41,-348.30 1376,-348C1472.10,-330.03 1500.02,-342.20 1593,-312C1613.79,-305.25 1617.01,-298.86 1637,-290C1872.41,-185.64 2031.61,-292.54 2177,-80C2182.52,-71.93 2183.68,-65.14 2177,-58C2153.77,-33.17 1632.64,-15.49 1512.50,-11.74"/><polygon points="1512.39,-15.24 1502.50,-11.43 1512.60,-8.24 1512.39,-15.24"/>
<path d="M1284.67,-351.63C1220.92,-342.26 1101.97,-324.63 1023.54,-313.10"/><polygon points="1023.64,-309.58 1013.24,-311.59 1022.62,-316.51 1023.64,-309.58"/>
<path d="M1296.11,-348C1270.06,-338.85 1232.39,-325.22 1200,-312C1178.27,-303.13 1174.51,-296.63 1152,-290C1044.32,-258.29 1012.80,-272.04 902,-254C900.53,-253.76 900.05,-253.52 898.54,-253.26"/><polygon points="898.97,-249.79 888.52,-251.54 897.78,-256.68 898.97,-249.79"/>
<path d="M1284.73,-355.15C1142.20,-345.74 688.65,-315.76 532.93,-305.49"/><polygon points="532.89,-301.98 522.68,-304.81 532.42,-308.97 532.89,-301.98"/>
<path d="M1304.26,-348C1284.32,-338.67 1255.14,-324.80 1230,-312C1211.92,-302.80 1209.25,-296.41 1190,-290C1081.41,-253.83 1043.19,-291.36 935,-254C916.55,-247.63 915.17,-239.11 897,-232C829.12,-205.43 782.53,-252.92 737,-196C730.89,-188.36 730.91,-181.65 737,-174C745.64,-163.15 816.33,-148.23 871.66,-138.14"/><polygon points="871.04,-134.69 881.50,-136.36 872.28,-141.58 871.04,-134.69"/>
<path d="M1351.41,-348C1369.19,-339.23 1393.92,-326.11 1414,-312C1508.50,-245.61 1560.06,-243.52 1607,-138C1610.97,-129.07 1612.85,-123.84 1607,-116C1600.53,-107.33 1546.81,-92.09 1504.20,-81.32"/><polygon points="1503.35,-84.72 1494.50,-78.89 1505.05,-77.93 1503.35,-84.72"/>
<path d="M1338.98,-348C1362.66,-323.39 1418.04,-260.94 1438,-196C1440.87,-186.65 1442.52,-182.67 1438,-174C1431.12,-160.82 1418.69,-150.52 1406.45,-142.96"/><polygon points="1404.71,-146 1397.77,-138 1408.18,-139.92 1404.71,-146"/>
<path d="M1333.98,-348C1350.80,-316.81 1397.78,-228 1405,-196C1407.15,-186.46 1410.54,-182.06 1405,-174C1379.65,-137.14 1349.11,-161.43 1311,-138C1288.31,-124.05 1266.38,-102.66 1252.16,-87.39"/><polygon points="1249.57,-89.75 1245.42,-80 1254.74,-85.04 1249.57,-89.75"/>
<path d="M1344.59,-348C1357.57,-339.03 1375.75,-325.66 1390,-312C1446.82,-257.54 1501.74,-181.45 1526.01,-146.25"/><polygon points="1523.12,-144.28 1531.65,-138 1528.90,-148.23 1523.12,-144.28"/>
<path d="M1371,-349.22C1424,-337.08 1508.82,-317.31 1523,-312C1529.47,-309.58 1627.24,-257.82 1633,-254C1666.97,-231.50 1677.82,-227.22 1704,-196C1716.45,-181.15 1726.75,-161.62 1733.47,-147.13"/><polygon points="1730.28,-145.71 1737.55,-138 1736.67,-148.56 1730.28,-145.71"/>
<path d="M1371.17,-348.99C1372.80,-348.65 1374.42,-348.32 1376,-348C1456.37,-331.64 1479.91,-340.01 1557,-312C1582.24,-302.83 1640.84,-269.16 1663,-254C1729.14,-208.77 1767.17,-210.63 1801,-138C1837.91,-58.76 1713.82,-94.11 1670,-80C1669.90,-79.97 1670.80,-79.93 1670.70,-79.90"/><polygon points="1671.66,-76.53 1661.06,-76.57 1669.37,-83.15 1671.66,-76.53"/>
<path d="M1323.75,-348C1320.36,-338.60 1315.88,-324.64 1314,-312C1308.66,-276.14 1310.81,-262.76 1330,-232C1337.71,-219.64 1348.58,-208.57 1359.02,-200.28"/><polygon points="1356.91,-197.49 1367,-194.25 1361.13,-203.08 1356.91,-197.49"/>
<path d="M1284.82,-348.63C1239.15,-338.71 1168.22,-323.10 1120.34,-312.71"/><polygon points="1121.03,-309.28 1110.51,-310.58 1119.54,-316.12 1121.03,-309.28"/>
<path d="M1357.32,-347.99C1386.46,-338.04 1429.98,-322.84 1459.77,-312.66"/><polygon points="1460.93,-315.97 1469.26,-309.42 1458.67,-309.34 1460.93,-315.97"/>
<path d="M1313.98,-347.88C1286.52,-328.07 1225.48,-284.03 1192.38,-260.15"/><polygon points="1194.37,-257.27 1184.22,-254.26 1190.28,-262.95 1194.37,-257.27"/>
<path d="M1371,-352.43C1429.91,-343.42 1538.99,-326.66 1632,-312C1633.25,-311.80 1633.52,-311.60 1634.80,-311.40"/><polygon points="1635.40,-314.85 1644.72,-309.81 1634.29,-307.94 1635.40,-314.85"/>
<path d="M1371.20,-354.55C1445.85,-348.32 1603.02,-333.89 1746.54,-312.11"/><polygon points="1747.50,-315.51 1756.85,-310.53 1746.44,-308.59 1747.50,-315.51"/>
<path d="M1160.38,-232C1139.15,-207.01 1088.38,-143.21 1066,-80C1060.45,-64.31 1056.84,-45.80 1054.68,-31.90"/><polygon points="1051.22,-32.39 1053.26,-22 1058.15,-31.40 1051.22,-32.39"/>
<path d="M1224,-241.28C1353.26,-236 1689.66,-215.31 1958,-138C1980.55,-131.50 1983.79,-123.58 2006,-116C2072.93,-93.15 2117.01,-135.38 2161,-80C2167.08,-72.34 2167.67,-65.15 2161,-58C2138.38,-33.78 1630.92,-15.68 1512.49,-11.78"/><polygon points="1512.38,-15.28 1502.50,-11.46 1512.61,-8.28 1512.38,-15.28"/>
<path d="M1853.88,-62.07C1838.62,-60.64 1822.20,-59.18 1807,-58C1525.26,-36.13 1184.75,-17.82 1082.99,-12.54"/><polygon points="1082.81,-16.03 1073,-12.02 1083.17,-9.04 1082.81,-16.03"/>
<path d="M1853.64,-59.84C1849.03,-59.21 1844.44,-58.59 1840,-58C1716.55,-41.50 1569.76,-21.86 1512.41,-14.24"/><polygon points="1511.95,-17.71 1502.50,-12.93 1512.87,-10.77 1511.95,-17.71"/>
</g>
</svg>
</body></html>
